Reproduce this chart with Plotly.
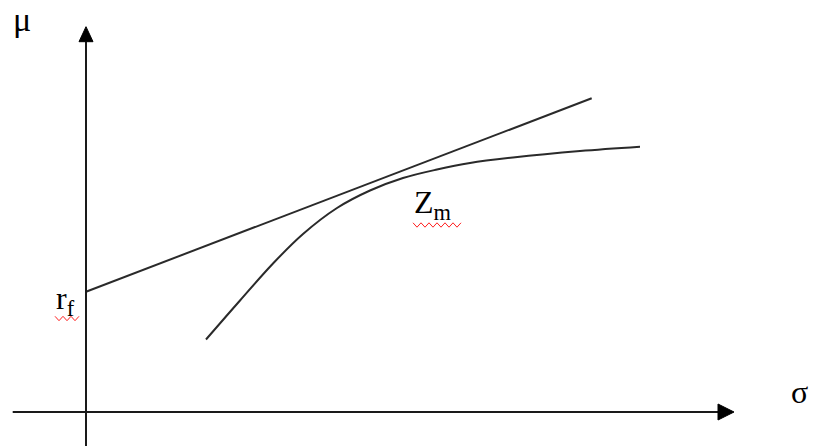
import plotly.graph_objects as go

# Capital market line: risk-free rate r_f tangent to the efficient frontier
cml_sigma = [0.0, 5.057]
cml_mu = [1.203, 3.137]

# Efficient frontier of risky portfolios
frontier_sigma = [1.20, 1.54, 1.87, 2.17, 2.51, 2.84, 3.17, 3.51, 3.84, 4.27, 4.94, 5.54]
frontier_mu = [0.725, 1.115, 1.485, 1.78, 2.04, 2.215, 2.34, 2.425, 2.49, 2.545, 2.61, 2.653]

# Drawn axis extents (σ horizontal, μ vertical)
sigma_axis = [-0.733, 6.48]
mu_axis = [-0.34, 3.853]

# Label anchors
labels = {
    "mu": (-0.75, 3.93),
    "rf": (-0.32, 0.89),
    "zm": (3.26, 1.85),
    "sigma": (7.135, 0.0),
}

X_RANGE = [-0.86, 7.27]
Y_RANGE = [-0.34, 4.12]
INK = "#1a1a1a"
SERIF = "Liberation Serif, Times New Roman, serif"

fig = go.Figure()

fig.add_trace(go.Scatter(x=cml_sigma, y=cml_mu, mode="lines",
                         line=dict(color="#2a2a2a", width=2), hoverinfo="skip"))
fig.add_trace(go.Scatter(x=frontier_sigma, y=frontier_mu, mode="lines",
                         line=dict(color="#2a2a2a", width=2, shape="spline", smoothing=1.0),
                         hoverinfo="skip"))

# Axes with arrowheads
head_len_x, head_half_x = 0.16, 0.08
head_len_y, head_half_y = 0.15, 0.07
shapes = [
    dict(type="line", x0=sigma_axis[0], x1=sigma_axis[1] - head_len_x, y0=0, y1=0,
         line=dict(color=INK, width=2)),
    dict(type="line", x0=0, x1=0, y0=mu_axis[0], y1=mu_axis[1] - head_len_y,
         line=dict(color=INK, width=2)),
    dict(type="path",
         path=f"M {sigma_axis[1]} 0 L {sigma_axis[1]-head_len_x} {head_half_x} "
              f"L {sigma_axis[1]-head_len_x} {-head_half_x} Z",
         fillcolor="black", line=dict(color="black", width=1)),
    dict(type="path",
         path=f"M 0 {mu_axis[1]} L {head_half_y} {mu_axis[1]-head_len_y} "
              f"L {-head_half_y} {mu_axis[1]-head_len_y} Z",
         fillcolor="black", line=dict(color="black", width=1)),
]


def squiggle(x0, x1, y, step=0.04, amp=0.022):
    pts = []
    x = x0
    up = True
    while x <= x1 + 1e-9:
        pts.append((x, y + (amp if up else -amp)))
        up = not up
        x += step
    return "M " + " L ".join(f"{px:.3f} {py:.3f}" for px, py in pts)


# Spell-check underlines beneath r_f and Z_m
shapes.append(dict(type="path", path=squiggle(-0.31, -0.04, 0.935),
                   line=dict(color="#ff2020", width=1)))
shapes.append(dict(type="path", path=squiggle(3.27, 3.75, 1.87),
                   line=dict(color="#ff2020", width=1)))

annotations = [
    dict(x=labels["mu"][0], y=labels["mu"][1], text="μ", xanchor="left", yanchor="middle", size=34),
    dict(x=labels["rf"][0], y=labels["rf"][1], text="r<sub>f</sub>", xanchor="left", yanchor="bottom", size=32),
    dict(x=labels["zm"][0], y=labels["zm"][1], text="Z<sub>m</sub>", xanchor="left", yanchor="bottom", size=32),
    dict(x=labels["sigma"][0], y=labels["sigma"][1], text="σ", xanchor="center", yanchor="bottom", size=32),
]
for a in annotations:
    size = a.pop("size")
    a.update(xref="x", yref="y", showarrow=False,
             font=dict(family=SERIF, size=size, color="black"))

fig.update_layout(
    width=813, height=446,
    margin=dict(l=0, r=0, t=0, b=0),
    paper_bgcolor="white", plot_bgcolor="white",
    showlegend=False,
    xaxis=dict(range=X_RANGE, visible=False, fixedrange=True),
    yaxis=dict(range=Y_RANGE, visible=False, fixedrange=True),
    shapes=shapes,
    annotations=annotations,
)

fig.write_html("out.html", config={"displayModeBar": False})
